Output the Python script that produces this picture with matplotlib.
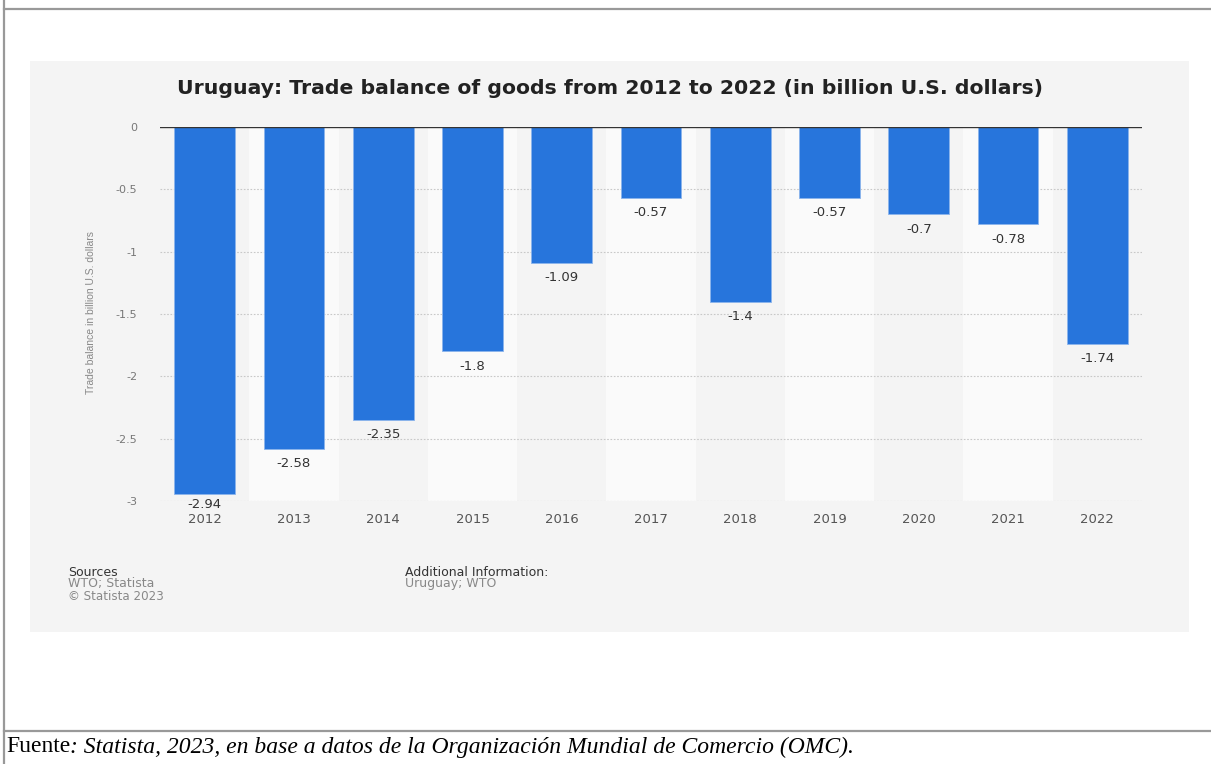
import matplotlib
matplotlib.use("Agg")
import matplotlib.pyplot as plt
from matplotlib.patches import Rectangle
from matplotlib.lines import Line2D

# Data
years = ["2012", "2013", "2014", "2015", "2016", "2017", "2018", "2019", "2020", "2021", "2022"]
balance = [-2.94, -2.58, -2.35, -1.8, -1.09, -0.57, -1.4, -0.57, -0.7, -0.78, -1.74]
value_labels = ["-2.94", "-2.58", "-2.35", "-1.8", "-1.09", "-0.57", "-1.4", "-0.57", "-0.7", "-0.78", "-1.74"]
y_ticks = [0, -0.5, -1, -1.5, -2, -2.5, -3]
y_tick_labels = ["0", "-0.5", "-1", "-1.5", "-2", "-2.5", "-3"]

SANS = "DejaVu Sans"

W, H = 1211, 764
fig = plt.figure(figsize=(W / 100, H / 100), dpi=100)
fig.patch.set_facecolor("white")

def fx(px):
    return px / W

def fy(py):
    return 1 - py / H

# Document frame lines
frame_c = "#999999"
fig.add_artist(Line2D([fx(3.5), fx(3.5)], [0, 1], color=frame_c, lw=1.6, transform=fig.transFigure))
fig.add_artist(Line2D([fx(3.5), 1], [fy(8.5), fy(8.5)], color=frame_c, lw=1.6, transform=fig.transFigure))
fig.add_artist(Line2D([fx(3.5), 1], [fy(731), fy(731)], color=frame_c, lw=1.6, transform=fig.transFigure))

# Chart panel background
fig.add_artist(Rectangle((fx(30), fy(632)), fx(1189) - fx(30), fy(61) - fy(632),
                         transform=fig.transFigure, facecolor="#f4f4f4", edgecolor="none", zorder=0))

ax = fig.add_axes([fx(160), fy(501), fx(1142) - fx(160), fy(127) - fy(501)])
ax.set_facecolor("none")
x = list(range(len(years)))
ax.set_xlim(-0.5, len(years) - 0.5)
ax.set_ylim(-3, 0)

# Alternating column shading
for i in x:
    if i % 2 == 1:
        ax.axvspan(i - 0.5, i + 0.5, color="#fafafa", zorder=0, lw=0)

# Grid
for t in y_ticks[1:]:
    ax.axhline(t, color="#c8c8c8", lw=0.8, ls=(0, (1.5, 1.5)), zorder=1)

ax.bar(x, balance, width=0.68, color="#2775dc", edgecolor="#8bb4ec", linewidth=0.6, zorder=2)
ax.axhline(0, color="#333333", lw=1.0, zorder=3)

# Value labels under each bar; the deepest one sits closer so it clears the year labels
for xi, v, lab in zip(x, balance, value_labels):
    off = -3.5 if v < -2.85 else -6
    ax.annotate(lab, (xi, v), xytext=(0, off), textcoords="offset points",
                ha="center", va="top", fontsize=9.5, color="#333333",
                family=SANS, zorder=4)

for s in ax.spines.values():
    s.set_visible(False)
ax.set_yticks(y_ticks)
ax.set_yticklabels(y_tick_labels, fontsize=8, color="#777777", family=SANS)
ax.set_xticks(x)
ax.set_xticklabels(years, fontsize=9.5, color="#555555", family=SANS)
ax.tick_params(axis="both", length=0)
ax.tick_params(axis="y", pad=16.5)
ax.tick_params(axis="x", pad=8.5)

ax.set_ylabel("Trade balance in billion U.S. dollars", fontsize=7.5, color="#888888",
              family="Liberation Sans")
ax.yaxis.set_label_coords(fx(96), fy(313), transform=fig.transFigure)

fig.text(fx(610), fy(88), "Uruguay: Trade balance of goods from 2012 to 2022 (in billion U.S. dollars)",
         ha="center", va="center", fontsize=14.7, fontweight="bold", color="#222222",
         family=SANS)

# Footer of the chart panel
fig.text(fx(68), fy(572), "Sources", fontsize=9, color="#333333", va="center", family=SANS)
fig.text(fx(68), fy(584), "WTO; Statista", fontsize=9, color="#888888", va="center", family=SANS)
fig.text(fx(68), fy(596), "\u00a9 Statista 2023", fontsize=8.6, color="#888888", va="center", family=SANS)
fig.text(fx(405), fy(572), "Additional Information:", fontsize=9, color="#333333", va="center", family=SANS)
fig.text(fx(405), fy(584), "Uruguay; WTO", fontsize=9, color="#888888", va="center", family=SANS)

# Document caption
t1 = fig.text(fx(6), fy(747), "Fuente", fontsize=17, color="#000000", va="center",
              family="Liberation Serif")
fig.canvas.draw()
bb = t1.get_window_extent(fig.canvas.get_renderer())
fig.text(bb.x1 / W, fy(747),
         ": Statista, 2023, en base a datos de la Organizaci\u00f3n Mundial de Comercio (OMC).",
         fontsize=17, color="#000000", va="center", style="italic", family="Liberation Serif")

fig.savefig("out.png", dpi=100)
